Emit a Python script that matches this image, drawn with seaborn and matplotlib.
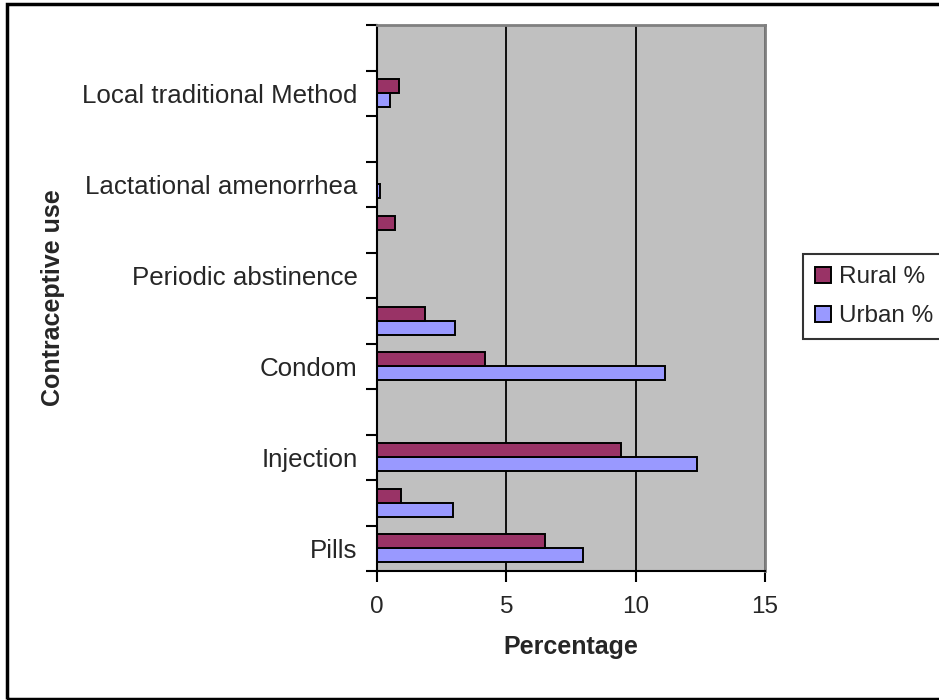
import numpy as np
import pandas as pd
import matplotlib
matplotlib.use("Agg")
import matplotlib.pyplot as plt
from matplotlib.patches import Rectangle, Patch
import seaborn as sns

# data (bottom to top, as drawn)

method_labels = ["Pills", "", "Injection", "", "Condom", "",
                 "Periodic abstinence", "", "Lactational amenorrhea", "",
                 "Local traditional Method", ""]
rural_pct = [6.49, 0.92, 9.45, 0, 4.18, 1.86, 0, 0.68, 0, 0, 0.84, 0]
urban_pct = [7.97, 2.94, 12.38, 0, 11.13, 3.03, 0, 0, 0.13, 0, 0.51, 0]
series_names = ["Rural %", "Urban %"]
series_colors = {"Rural %": "#993366", "Urban %": "#9999FF"}
x_ticks = [0, 5, 10, 15]

# long format for seaborn

slot = np.arange(len(method_labels))
df = pd.concat([
    pd.DataFrame({"slot": slot, "pct": rural_pct, "series": "Rural %"}),
    pd.DataFrame({"slot": slot, "pct": urban_pct, "series": "Urban %"}),
])

sns.set_style("white")
plt.rcParams["font.family"] = ["Liberation Sans", "DejaVu Sans"]

fig = plt.figure(figsize=(9.39, 7.0), dpi=100)
ax = fig.add_axes([377 / 939, 1 - 571 / 700, 388 / 939, 546 / 700])

# urban first in hue order so rural sits on top of each pair
sns.barplot(data=df, x="pct", y="slot", hue="series", orient="y",
            native_scale=True, hue_order=["Urban %", "Rural %"],
            palette=series_colors, width=0.62, edgecolor="black",
            linewidth=1.4, saturation=1, legend=False, ax=ax)

ax.set_facecolor("#C0C0C0")
ax.set_xlim(0, 15)
ax.set_ylim(-0.5, len(method_labels) - 0.5)

# category boundaries get the tick marks, centres get the labels
ax.set_yticks(np.arange(-0.5, len(method_labels), 1))
ax.set_yticklabels([])
ax.set_yticks(slot, minor=True)
ax.set_yticklabels(method_labels, minor=True, fontsize=18.6)
ax.tick_params(axis="y", which="major", left=True, length=8, width=1.5,
               direction="out", color="black")
ax.tick_params(axis="y", which="minor", left=True, length=0, pad=14)

ax.set_xticks(x_ticks)
ax.set_xticklabels([str(t) for t in x_ticks], fontsize=17.5)
ax.tick_params(axis="x", bottom=True, length=8, width=1.5, direction="out",
               color="black", pad=10)

ax.grid(axis="x", color="black", linewidth=1.3)
ax.grid(axis="y", visible=False)
ax.set_axisbelow(True)

for side in ["left", "bottom"]:
    ax.spines[side].set_color("black")
    ax.spines[side].set_linewidth(1.5)
for side in ["top", "right"]:
    ax.spines[side].set_color("#808080")
    ax.spines[side].set_linewidth(2)

ax.set_xlabel("Percentage", fontsize=18, fontweight="bold")
ax.xaxis.set_label_coords(0.5, -0.118)
ax.set_ylabel("Contraceptive use", fontsize=18, fontweight="bold")
ax.yaxis.set_label_coords(-0.805, 0.5)

handles = [Patch(facecolor=series_colors[n], edgecolor="black", linewidth=1.4)
           for n in series_names]
leg = fig.legend(handles, series_names, loc="upper left",
                 bbox_to_anchor=(803 / 939, 1 - 254 / 700), fontsize=17.5,
                 frameon=True, fancybox=False, edgecolor="black",
                 handlelength=0.65, handleheight=0.65, handletextpad=0.35,
                 borderpad=0.5, labelspacing=0.7, borderaxespad=0)
leg.get_frame().set_linewidth(1.5)

# outer chart frame
fig.patches.append(Rectangle((7 / 939, 1 / 700), 1.2, 1 - 5 / 700,
                             transform=fig.transFigure, fill=False,
                             edgecolor="black", linewidth=2.5))

fig.savefig("out.png", dpi=100)
